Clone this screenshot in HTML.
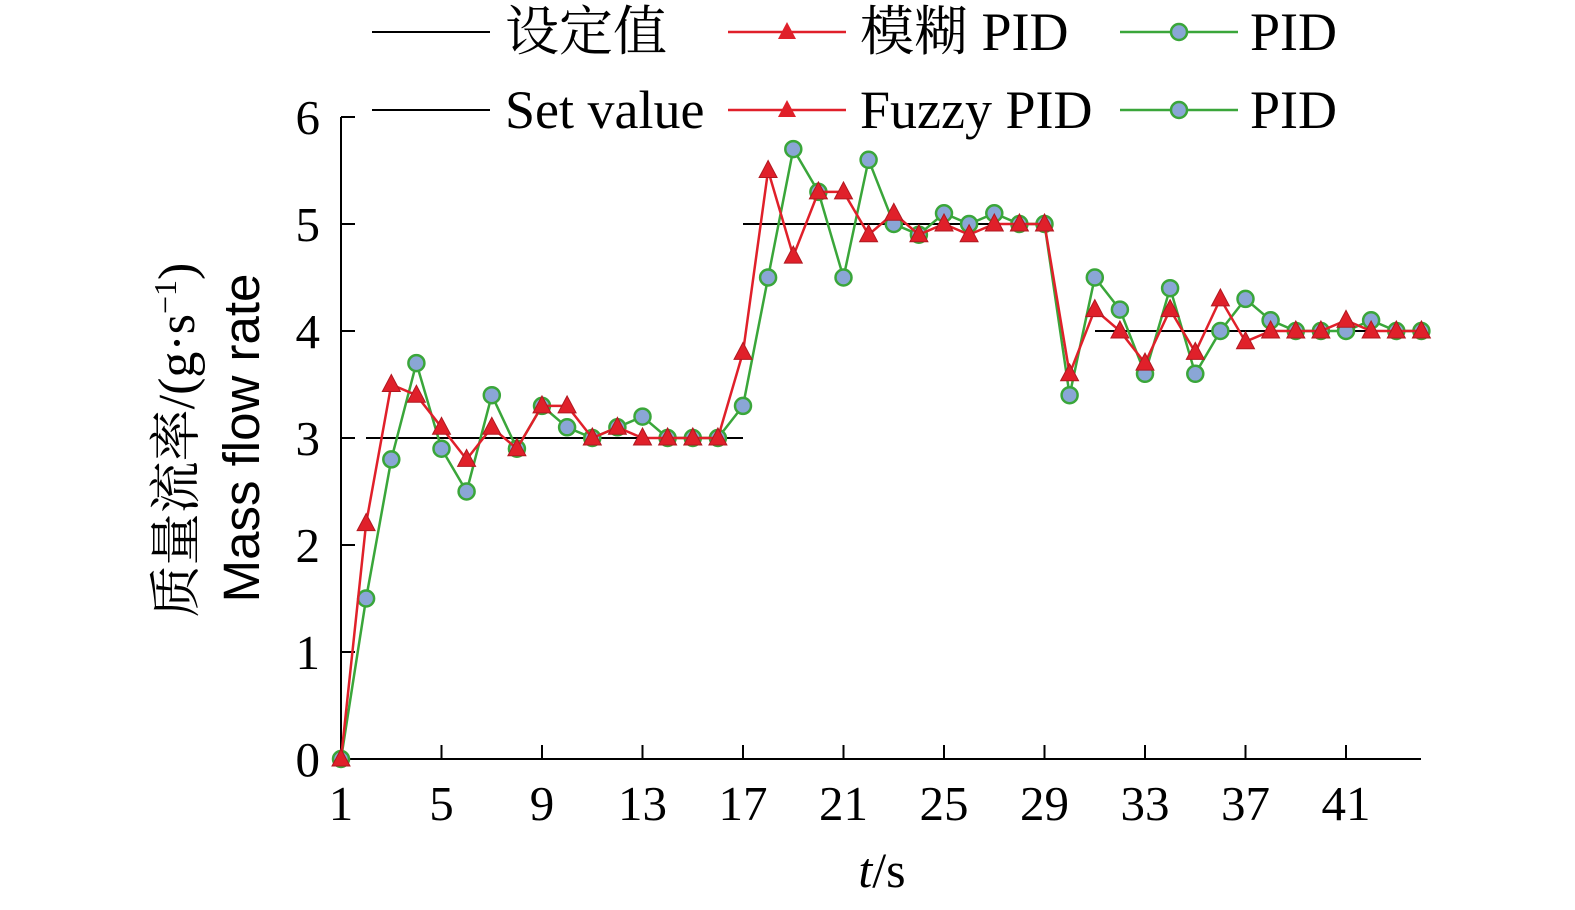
<!DOCTYPE html>
<html><head><meta charset="utf-8"><style>body{margin:0;background:#fff}svg{display:block}</style></head><body>
<svg width="1575" height="910" xmlns="http://www.w3.org/2000/svg" font-family="'Liberation Serif','Noto Serif CJK SC',serif">
<defs>
<marker id="c" markerUnits="userSpaceOnUse" markerWidth="24" markerHeight="24" refX="12" refY="12" overflow="visible"><circle cx="12" cy="12" r="8" fill="#8aa6d6" stroke="#3aa63a" stroke-width="2.5"/></marker>
<marker id="t" markerUnits="userSpaceOnUse" markerWidth="24" markerHeight="24" refX="12" refY="12" overflow="visible"><polygon points="12,2 3,19 21,19" fill="#e0202a" stroke="#b01820" stroke-width="1"/></marker>
</defs>
<line x1="341" y1="117" x2="341" y2="760" stroke="#000" stroke-width="2"/>
<line x1="340" y1="759" x2="1421" y2="759" stroke="#000" stroke-width="2"/>
<g stroke="#000" stroke-width="2">
<line x1="341" y1="759" x2="355" y2="759"/><line x1="341" y1="652" x2="355" y2="652"/><line x1="341" y1="545" x2="355" y2="545"/><line x1="341" y1="438" x2="355" y2="438"/><line x1="341" y1="331" x2="355" y2="331"/><line x1="341" y1="224" x2="355" y2="224"/><line x1="341" y1="117" x2="355" y2="117"/>
<line x1="441.5" y1="745" x2="441.5" y2="759"/><line x1="542" y1="745" x2="542" y2="759"/><line x1="642.5" y1="745" x2="642.5" y2="759"/><line x1="743" y1="745" x2="743" y2="759"/><line x1="843.5" y1="745" x2="843.5" y2="759"/><line x1="944" y1="745" x2="944" y2="759"/><line x1="1044.5" y1="745" x2="1044.5" y2="759"/><line x1="1145" y1="745" x2="1145" y2="759"/><line x1="1245.5" y1="745" x2="1245.5" y2="759"/><line x1="1346" y1="745" x2="1346" y2="759"/>
</g>
<g font-size="49" text-anchor="end">
<text x="320" y="776">0</text><text x="320" y="669">1</text><text x="320" y="562">2</text><text x="320" y="455">3</text><text x="320" y="348">4</text><text x="320" y="241">5</text><text x="320" y="134">6</text>
</g>
<g font-size="49" text-anchor="middle">
<text x="341" y="820">1</text><text x="441.5" y="820">5</text><text x="542" y="820">9</text><text x="642.5" y="820">13</text><text x="743" y="820">17</text><text x="843.5" y="820">21</text><text x="944" y="820">25</text><text x="1044.5" y="820">29</text><text x="1145" y="820">33</text><text x="1245.5" y="820">37</text><text x="1346" y="820">41</text>
</g>
<g stroke="#000" stroke-width="2"><line x1="366" y1="438" x2="743" y2="438"/><line x1="743" y1="224" x2="1045" y2="224"/><line x1="1095" y1="331" x2="1421" y2="331"/></g>
<polyline fill="none" stroke="#3aa63a" stroke-width="2.5" marker-start="url(#c)" marker-mid="url(#c)" marker-end="url(#c)" points="341,759 366.1,598.5 391.3,459.4 416.4,363.1 441.5,448.7 466.6,491.5 491.8,395.2 516.9,448.7 542,405.9 567.1,427.3 592.3,438 617.4,427.3 642.5,416.6 667.6,438 692.8,438 717.9,438 743,405.9 768.1,277.5 793.3,149.1 818.4,191.9 843.5,277.5 868.6,159.8 893.8,224 918.9,234.7 944,213.3 969.1,224 994.3,213.3 1019.4,224 1044.5,224 1069.6,395.2 1094.8,277.5 1119.9,309.6 1145,373.8 1170.1,288.2 1195.3,373.8 1220.4,331 1245.5,298.9 1270.6,320.3 1295.8,331 1320.9,331 1346,331 1371.1,320.3 1396.3,331 1421.4,331"/>
<polyline fill="none" stroke="#e0202a" stroke-width="2.5" marker-start="url(#t)" marker-mid="url(#t)" marker-end="url(#t)" points="341,759 366.1,523.6 391.3,384.5 416.4,395.2 441.5,427.3 466.6,459.4 491.8,427.3 516.9,448.7 542,405.9 567.1,405.9 592.3,438 617.4,427.3 642.5,438 667.6,438 692.8,438 717.9,438 743,352.4 768.1,170.5 793.3,256.1 818.4,191.9 843.5,191.9 868.6,234.7 893.8,213.3 918.9,234.7 944,224 969.1,234.7 994.3,224 1019.4,224 1044.5,224 1069.6,373.8 1094.8,309.6 1119.9,331 1145,363.1 1170.1,309.6 1195.3,352.4 1220.4,298.9 1245.5,341.7 1270.6,331 1295.8,331 1320.9,331 1346,320.3 1371.1,331 1396.3,331 1421.4,331"/>
<line x1="372" y1="32" x2="490" y2="32" stroke="#000" stroke-width="2"/><text x="505" y="50" font-size="54">设定值</text>
<line x1="728" y1="32" x2="846" y2="32" stroke="#e0202a" stroke-width="2.5"/><polygon points="787,22 778,39 796,39" fill="#e0202a"/><text x="860" y="50" font-size="54">模糊 PID</text>
<line x1="1120" y1="32" x2="1238" y2="32" stroke="#3aa63a" stroke-width="2.5"/><circle cx="1179" cy="32" r="8" fill="#8aa6d6" stroke="#3aa63a" stroke-width="2.5"/><text x="1250" y="50" font-size="54">PID</text>
<line x1="372" y1="110" x2="490" y2="110" stroke="#000" stroke-width="2"/><text x="505" y="128" font-size="54">Set value</text>
<line x1="728" y1="110" x2="846" y2="110" stroke="#e0202a" stroke-width="2.5"/><polygon points="787,100 778,117 796,117" fill="#e0202a"/><text x="860" y="128" font-size="54">Fuzzy PID</text>
<line x1="1120" y1="110" x2="1238" y2="110" stroke="#3aa63a" stroke-width="2.5"/><circle cx="1179" cy="110" r="8" fill="#8aa6d6" stroke="#3aa63a" stroke-width="2.5"/><text x="1250" y="128" font-size="54">PID</text>
<text x="882" y="887" font-size="50" text-anchor="middle"><tspan font-style="italic">t</tspan>/s</text>
<text transform="translate(194,440) rotate(-90)" font-size="52" text-anchor="middle">质量流率/(g·s<tspan dy="-18" font-size="32">−1</tspan><tspan dy="18">)</tspan></text>
<text transform="translate(259,438) rotate(-90)" font-size="51" text-anchor="middle" font-family="'Liberation Sans',sans-serif">Mass flow rate</text>
</svg>
</body></html>
